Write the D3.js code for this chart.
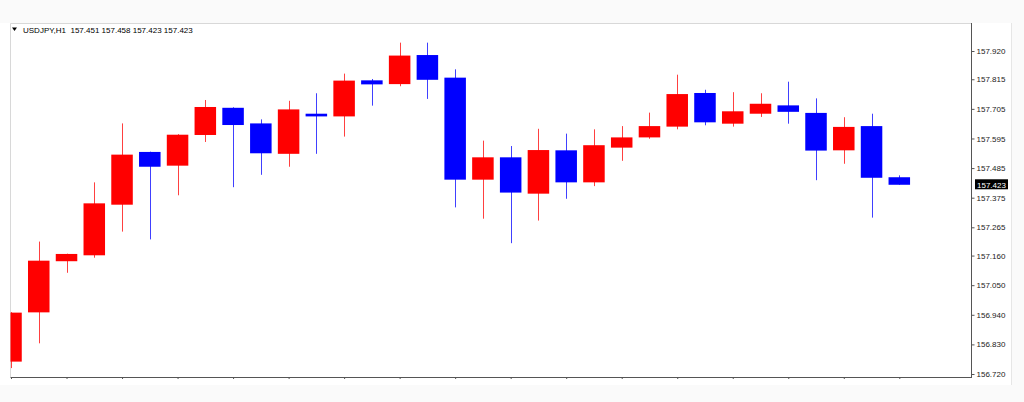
<!DOCTYPE html>
<html>
<head>
<meta charset="utf-8">
<script src="https://cdn.jsdelivr.net/npm/d3@7/dist/d3.min.js"></script>
<style>
  html, body { margin: 0; padding: 0; background: #fafafa; }
  svg { display: block; }
  text { font-family: "Liberation Sans", Arial, sans-serif; }
</style>
</head>
<body>
<svg id="chart" width="1024" height="402"></svg>
<script>
// ---- Data (USDJPY, H1) ----
const symbol = "USDJPY,H1";
const candleIndex = d3.range(33);
const opens  = [156.766,156.949,157.139,157.161,157.349,157.545,157.494,157.608,157.709,157.651,157.538,157.687,157.677,157.811,157.797,157.905,157.821,157.442,157.525,157.390,157.551,157.432,157.561,157.599,157.639,157.764,157.650,157.687,157.718,157.690,157.551,157.641,157.451];
const highs  = [156.950,157.212,157.167,157.432,157.651,157.546,157.611,157.738,157.711,157.666,157.735,157.763,157.836,157.816,157.951,157.951,157.852,157.587,157.567,157.631,157.613,157.629,157.641,157.691,157.832,157.776,157.767,157.763,157.806,157.744,157.674,157.687,157.458];
const lows   = [156.742,156.834,157.096,157.152,157.249,157.220,157.384,157.582,157.414,157.460,157.490,157.538,157.602,157.717,157.789,157.742,157.339,157.297,157.206,157.290,157.371,157.418,157.512,157.594,157.629,157.644,157.639,157.675,157.650,157.440,157.501,157.301,157.423];
const closes = [156.948,157.141,157.166,157.354,157.535,157.490,157.609,157.712,157.645,157.540,157.703,157.677,157.810,157.796,157.903,157.813,157.442,157.525,157.394,157.552,157.432,157.570,157.599,157.641,157.760,157.655,157.696,157.724,157.694,157.550,157.638,157.449,157.423];
const priceTicks = [157.920,157.815,157.705,157.595,157.485,157.375,157.265,157.160,157.050,156.940,156.830,156.720];
const lastPrice = 157.423;

const candles = candleIndex.map(i => ({i, o: opens[i], h: highs[i], l: lows[i], c: closes[i]}));

const svg = d3.select("#chart");
const plot = {left: 10.5, right: 971.5, top: 23.5, bottom: 377};

// background panel
svg.append("rect").attr("x", 0).attr("y", 23).attr("width", 1011).attr("height", 362).attr("fill", "#ffffff");
svg.append("line").attr("x1", 1011.5).attr("x2", 1011.5).attr("y1", 23).attr("y2", 385).attr("stroke", "#e6e6e6");

const x = d3.scaleLinear().domain([0, 32]).range([11, 899.3]);
const step = x(1) - x(0);
const bodyW = step * 0.775;
const y = d3.scaleLinear().domain([156.720, 157.920]).range([374, 51]);

// frame
svg.append("line").attr("x1", plot.left).attr("x2", plot.right).attr("y1", plot.top).attr("y2", plot.top).attr("stroke", "#d8d8d8");
svg.append("line").attr("x1", plot.left).attr("x2", plot.left).attr("y1", plot.top).attr("y2", plot.bottom).attr("stroke", "#d8d8d8");

svg.append("clipPath").attr("id", "clip").append("rect")
  .attr("x", plot.left).attr("y", plot.top).attr("width", plot.right - plot.left).attr("height", plot.bottom - plot.top);

const g = svg.append("g").attr("clip-path", "url(#clip)");
const color = d => d.c >= d.o ? "#ff0000" : "#0000ff";

g.selectAll("line.wick").data(candles).join("line")
  .attr("class", "wick")
  .attr("x1", d => Math.round(x(d.i)) + 0.5).attr("x2", d => Math.round(x(d.i)) + 0.5)
  .attr("y1", d => y(d.h)).attr("y2", d => y(d.l))
  .attr("stroke", color).attr("stroke-width", 1).attr("stroke-opacity", 0.75);

g.selectAll("rect.body").data(candles).join("rect")
  .attr("class", "body")
  .attr("x", d => x(d.i) - bodyW / 2)
  .attr("width", bodyW)
  .attr("y", d => y(Math.max(d.o, d.c)))
  .attr("height", d => Math.max(2.5, Math.abs(y(d.o) - y(d.c))))
  .attr("fill", color);

// right price axis
const yAxis = d3.axisRight(y).tickValues(priceTicks).tickSize(3).tickPadding(2).tickFormat(d3.format(".3f"));
const ya = svg.append("g").attr("transform", `translate(${plot.right},0)`).call(yAxis);
ya.select(".domain").remove();
ya.selectAll(".tick line").attr("stroke", "#555");
ya.selectAll(".tick text").attr("font-size", 8).attr("fill", "#222").attr("font-family", "Liberation Sans, Arial, sans-serif");
svg.append("line").attr("x1", plot.right).attr("x2", plot.right).attr("y1", plot.top - 0.5).attr("y2", plot.bottom).attr("stroke", "#555");

// bottom time axis (ticks only)
const xAxis = d3.axisBottom(x).tickValues(candleIndex.filter(i => i % 2 === 0)).tickSize(2).tickFormat("");
const xa = svg.append("g").attr("transform", `translate(0,${plot.bottom})`).call(xAxis);
xa.select(".domain").remove();
xa.selectAll(".tick line").attr("stroke", "#555");
svg.append("line").attr("x1", plot.left).attr("x2", plot.right + 0.5).attr("y1", plot.bottom + 0.5).attr("y2", plot.bottom + 0.5).attr("stroke", "#555");

// current price label
const ly = y(lastPrice);
svg.append("rect").attr("x", 975).attr("y", ly - 5.5).attr("width", 33).attr("height", 10).attr("fill", "#000");
svg.append("text").attr("x", 977).attr("y", ly + 3).attr("font-size", 8).attr("fill", "#fff").text(d3.format(".3f")(lastPrice));

// title
svg.append("path").attr("d", "M12,27.5 L17,27.5 L14.5,31 Z").attr("fill", "#000");
svg.append("text").attr("x", 23).attr("y", 33).attr("font-size", 8).attr("fill", "#000")
  .attr("xml:space", "preserve")
  .text(`${symbol}  ${opens[32].toFixed(3)} ${highs[32].toFixed(3)} ${lows[32].toFixed(3)} ${closes[32].toFixed(3)}`);
</script>
</body>
</html>
